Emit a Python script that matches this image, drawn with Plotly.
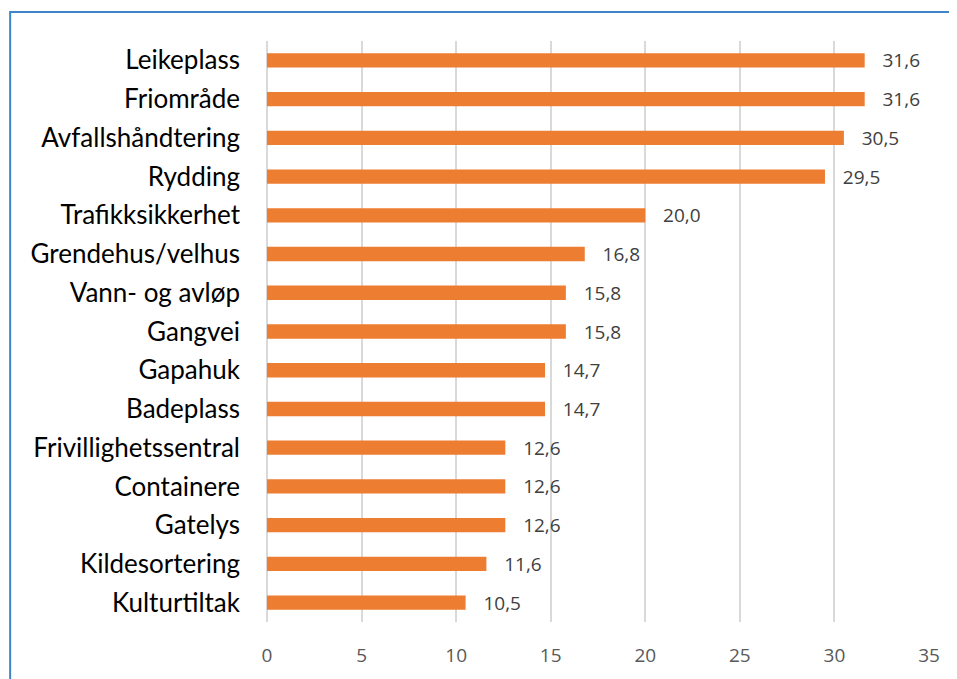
import plotly.graph_objects as go

categories = ["Leikeplass", "Friområde", "Avfallshåndtering", "Rydding", "Trafikksikkerhet",
              "Grendehus/velhus", "Vann- og avløp", "Gangvei", "Gapahuk", "Badeplass",
              "Frivillighetssentral", "Containere", "Gatelys", "Kildesortering", "Kulturtiltak"]
values = [31.6, 31.6, 30.5, 29.5, 20.0, 16.8, 15.8, 15.8, 14.7, 14.7, 12.6, 12.6, 12.6, 11.6, 10.5]
x_ticks = [0, 5, 10, 15, 20, 25, 30, 35]

labels = ["   " + f"{v:.1f}".replace(".", ",") for v in values]

fig = go.Figure(go.Bar(
    x=values, y=categories, orientation="h",
    marker=dict(color="#ED7D31", line=dict(width=0)),
    width=0.37,
    text=labels, textposition="outside", cliponaxis=False, constraintext="none",
    textfont=dict(family="Open Sans", size=19, color="#404040"),
))

fig.update_layout(
    width=949, height=671,
    margin=dict(l=259, r=28, t=33, b=57),
    paper_bgcolor="white", plot_bgcolor="white",
    showlegend=False,
    xaxis=dict(range=[0, 35], tickvals=x_ticks, showgrid=True, gridcolor="#D9D9D9", gridwidth=1.5,
               zeroline=True, zerolinecolor="#D9D9D9", zerolinewidth=1.5,
               tickfont=dict(family="Open Sans", size=19, color="#595959"), ticks="", ticklen=0,
               ticklabelstandoff=20, showline=False),
    yaxis=dict(categoryorder="array", categoryarray=categories[::-1], showgrid=False,
               tickfont=dict(family="Lato", size=26, color="#000000"), ticks="", ticklen=0,
               ticklabelstandoff=26, showline=False),
    shapes=[dict(type="rect", xref="paper", yref="paper", x0=-0.388, x1=1.2, y0=-0.2, y1=1.05,
                 line=dict(color="#3D85C6", width=2), fillcolor="rgba(0,0,0,0)", layer="below")],
)

fig.write_html("out.html")
